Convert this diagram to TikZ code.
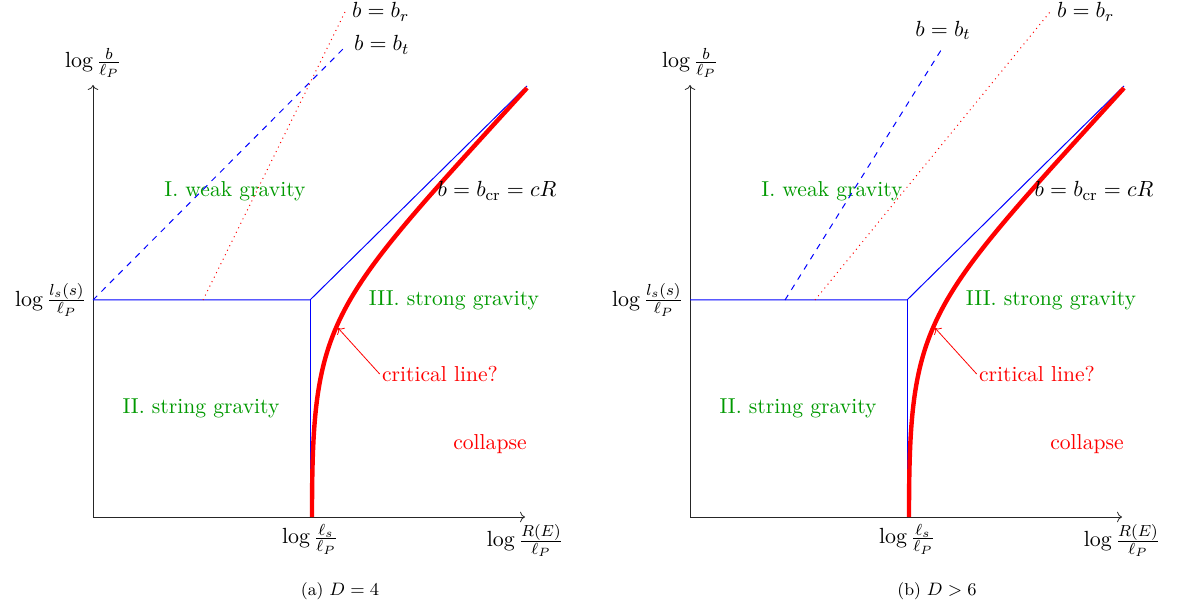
\documentclass[tikz,border=0pt]{standalone}
\usetikzlibrary{arrows.meta}
\DeclareMathSizes{10.8}{10.8}{8.2}{6}
\definecolor{ggreen}{rgb}{0,0.6,0}
\tikzset{
  axis/.style={->, black!85, line width=0.4pt},
  bline/.style={blue, line width=0.5pt},
  dline/.style={blue, dashed, line width=0.5pt},
  rdot/.style={red, dotted, line width=0.5pt},
  crit/.style={red, line width=2.2pt},
  reg/.style={text=ggreen},
  rtext/.style={text=red},
  arr/.style={->, red, line width=0.4pt},
  axlab/.style={},
  capt/.style={font=\fontsize{8.6}{10}\selectfont},
}
\newcommand\panelcommon[2]{%
  \coordinate (#1o) at (93,517);
  \coordinate (#1ytop) at (93,85);
  \coordinate (#1xend) at (525,517);
  \coordinate (#1left) at (93,300);
  \coordinate (#1corner) at (310,300);
  \coordinate (#1base) at (310,517);
  \coordinate (#1diag) at (527,86);
  \coordinate (#1tip) at (338,328);
  \coordinate (#1cstart) at (312,517);
  \coordinate (#1cend) at (527,88);
  \draw[axis] (#1o) -- (#1ytop);
  \draw[axis] (#1o) -- (#1xend);
  \node[axlab, anchor=south] (#1ylab) at (#1ytop) {$\log\frac{b}{\ell_P}$};
  \node[axlab, anchor=east] (#1lslab) at (#1left) {$\log\frac{l_s(s)}{\ell_P}$};
  \node[axlab, anchor=north] (#1xslab) at (#1base) {$\log\frac{\ell_s}{\ell_P}$};
  \node[axlab, anchor=north] (#1xlab) at (#1xend) {$\log\frac{R(E)}{\ell_P}$};
  \draw[bline] (#1left) -- (#1corner) -- (#1diag);
  \draw[bline] (#1corner) -- (#1base);
  \draw[crit] (#1cstart) .. controls (312,317) and (327,308) .. (#1cend);
  \node[reg] (#1weak) at (235,191) {I. weak gravity};
  \node[reg] (#1strong) at (454,300) {III. strong gravity};
  \node[reg] (#1string) at (201,408) {II. string gravity};
  \node[rtext] (#1coll) at (490,444) {collapse};
  \node[rtext, inner sep=1pt] (#1cl) at (440,374) {critical line?};
  \draw[arr] (#1cl.west) -- (#1tip);
  \node (#1bcr) at (497,191) {$b=b_{\mathrm{cr}}=cR$};
  \node[capt] (#1cap) at (340,591) {#2};
}
\begin{document}
\begin{tikzpicture}[x=0.5pt,y=-0.5pt, font=\fontsize{10.8}{13}\selectfont]
  \useasboundingbox (0,0) rectangle (1179,609);
  % panel (a)
  \panelcommon{a}{(a) $D=4$}
  \coordinate (adend) at (347,45);
  \coordinate (arend) at (345,12);
  \coordinate (arstart) at (203,300);
  \draw[dline] (aleft) -- (adend);
  \draw[rdot] (arstart) -- (arend);
  \node[anchor=west] (abr) at (arend) {$b=b_r$};
  \node[anchor=west] (abt) at (adend) {$b=b_t$};
  % panel (b)
  \begin{scope}[shift={(597,0)}]
    \panelcommon{b}{(b) $D>6$}
    \coordinate (bdstart) at (188,300);
    \coordinate (bdend) at (346,47);
    \coordinate (brstart) at (218,300);
    \coordinate (brend) at (453,12);
    \draw[dline] (bdstart) -- (bdend);
    \draw[rdot] (brstart) -- (brend);
    \node[anchor=south] (bbt) at (bdend) {$b=b_t$};
    \node[anchor=west] (bbr) at (brend) {$b=b_r$};
  \end{scope}
\end{tikzpicture}
\end{document}
